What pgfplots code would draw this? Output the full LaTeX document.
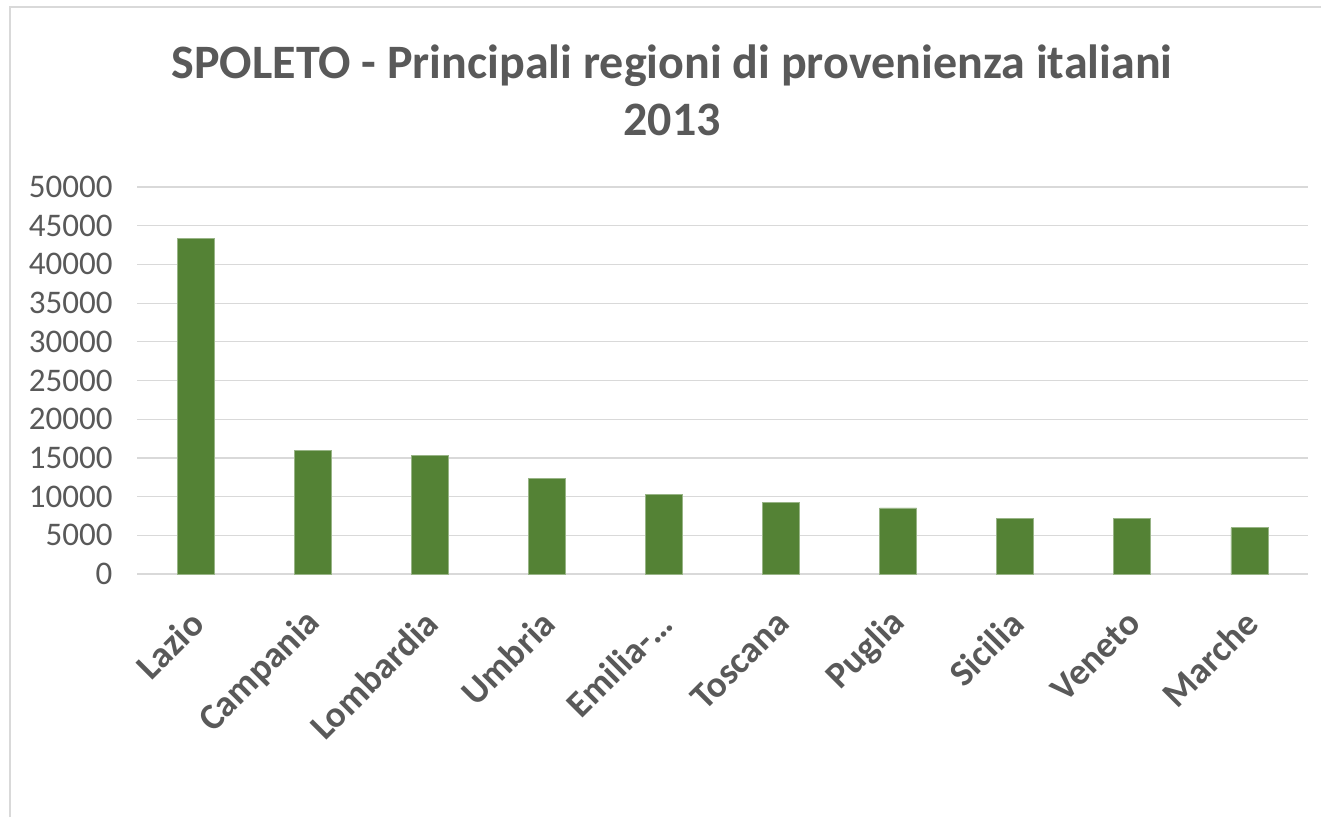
\documentclass[border=0pt]{standalone}
\usepackage{pgfplots}
\pgfplotsset{compat=1.18}
\usepackage{fontspec}
\setmainfont{Carlito}
\definecolor{bargreen}{HTML}{548235}
\definecolor{txt}{HTML}{595959}
\definecolor{gridgray}{HTML}{D9D9D9}
\begin{document}
\begin{tikzpicture}[x=1pt,y=1pt]
\useasboundingbox (0,0) rectangle (1321,817);
\fill[white] (0,0) rectangle (1321,817);
\draw[gridgray, line width=2pt] (10,0) -- (10,810) -- (1321,810);
\node[font=\bfseries\fontsize{48}{57}\selectfont, text=txt, align=center] at (672,727) {SPOLETO - Principali regioni di provenienza italiani\\2013};
\begin{axis}[
  at={(137pt,243pt)}, anchor=south west,
  scale only axis, width=1171pt, height=387pt,
  xmin=-0.5, xmax=9.5, ymin=0, ymax=50000,
  ytick={0,5000,...,50000},
  scaled y ticks=false,
  xtick={0,...,9},
  xticklabels={Lazio,Campania,Lombardia,Umbria,Emilia-\dots,Toscana,Puglia,Sicilia,Veneto,Marche},
  axis line style={draw=none},
  major tick length=0pt,
  xmajorgrids=false, ymajorgrids=true,
  grid style={draw=gridgray, line width=1.2pt},
  /pgf/number format/1000 sep={},
  /pgf/number format/assume math mode=true,
  yticklabel style={font=\fontsize{33}{39}\selectfont, text=txt, xshift=-21pt},
  xticklabel style={font=\bfseries\fontsize{37}{43}\selectfont, text=txt, rotate=45, anchor=east, xshift=-26pt, yshift=-32pt},
]
\addplot[ybar, bar width=37pt, fill=bargreen, draw=bargreen!60!white, line width=0.8pt] coordinates {
(0,43370) (1,16000) (2,15350) (3,12300) (4,10260) (5,9225) (6,8530) (7,7120) (8,7120) (9,5960)
};
\end{axis}
\end{tikzpicture}
\end{document}
